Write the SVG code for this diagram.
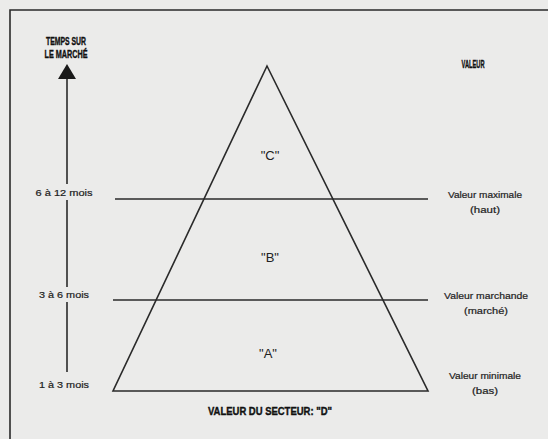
<svg xmlns="http://www.w3.org/2000/svg" width="548" height="439" viewBox="0 0 548 439">
<defs>
<style>
.ln{stroke:#2a2a2a;stroke-width:1.6;fill:none}
.t{font-family:"Liberation Sans",Arial,sans-serif;font-size:9px;fill:#222;text-anchor:middle;stroke:#222;stroke-width:0.2}
.h{font-family:"Liberation Sans Narrow","Liberation Sans",Arial,sans-serif;font-weight:bold;font-size:11.5px;fill:#111;text-anchor:middle;stroke:#111;stroke-width:0.4}
.s{font-family:"Liberation Sans",Arial,sans-serif;font-size:13px;fill:#222;text-anchor:middle}
</style>
</defs>
<rect width="548" height="439" fill="#ebebea"/>
<path class="ln" d="M10,439 V10 H548"/>
<g id="connectors">
<line class="ln" x1="67" y1="78" x2="67" y2="184"/>
<line class="ln" x1="67" y1="200" x2="67" y2="287"/>
<line class="ln" x1="67" y1="302" x2="67" y2="372"/>
<polygon points="67,64 58,79 76,79" fill="#1a1a1a"/>
</g>
<g id="pyramid">
<polygon class="ln" points="267,66 113,391 428,391"/>
<line class="ln" x1="115" y1="199" x2="428" y2="199"/>
<line class="ln" x1="113" y1="300" x2="428" y2="300"/>
</g>
<g id="axis-title"><text class="h" x="66" y="45" textLength="40" lengthAdjust="spacingAndGlyphs">TEMPS SUR</text><text class="h" x="66" y="58" textLength="43" lengthAdjust="spacingAndGlyphs">LE MARCHÉ</text></g>
<g id="valeur-title"><text class="h" x="473" y="68" textLength="23" lengthAdjust="spacingAndGlyphs">VALEUR</text></g>
<g id="t6"><text class="t" x="64" y="196" textLength="57" lengthAdjust="spacingAndGlyphs">6 à 12 mois</text></g>
<g id="t3"><text class="t" x="64" y="298" textLength="50" lengthAdjust="spacingAndGlyphs">3 à 6 mois</text></g>
<g id="t1"><text class="t" x="64" y="388" textLength="50" lengthAdjust="spacingAndGlyphs">1 à 3 mois</text></g>
<g id="C"><text class="s" x="270" y="160">"C"</text></g>
<g id="B"><text class="s" x="270" y="262">"B"</text></g>
<g id="A"><text class="s" x="268" y="358">"A"</text></g>
<g id="vmax"><text class="t" x="485" y="198" textLength="74" lengthAdjust="spacingAndGlyphs">Valeur maximale</text><text class="t" x="485" y="213" textLength="30" lengthAdjust="spacingAndGlyphs">(haut)</text></g>
<g id="vmar"><text class="t" x="486" y="299" textLength="84" lengthAdjust="spacingAndGlyphs">Valeur marchande</text><text class="t" x="486" y="314" textLength="44" lengthAdjust="spacingAndGlyphs">(marché)</text></g>
<g id="vmin"><text class="t" x="485" y="379" textLength="72" lengthAdjust="spacingAndGlyphs">Valeur minimale</text><text class="t" x="485" y="394" textLength="26" lengthAdjust="spacingAndGlyphs">(bas)</text></g>
<g id="secteur"><text class="h" x="270" y="415" textLength="124" lengthAdjust="spacingAndGlyphs">VALEUR DU SECTEUR: "D"</text></g>
</svg>
